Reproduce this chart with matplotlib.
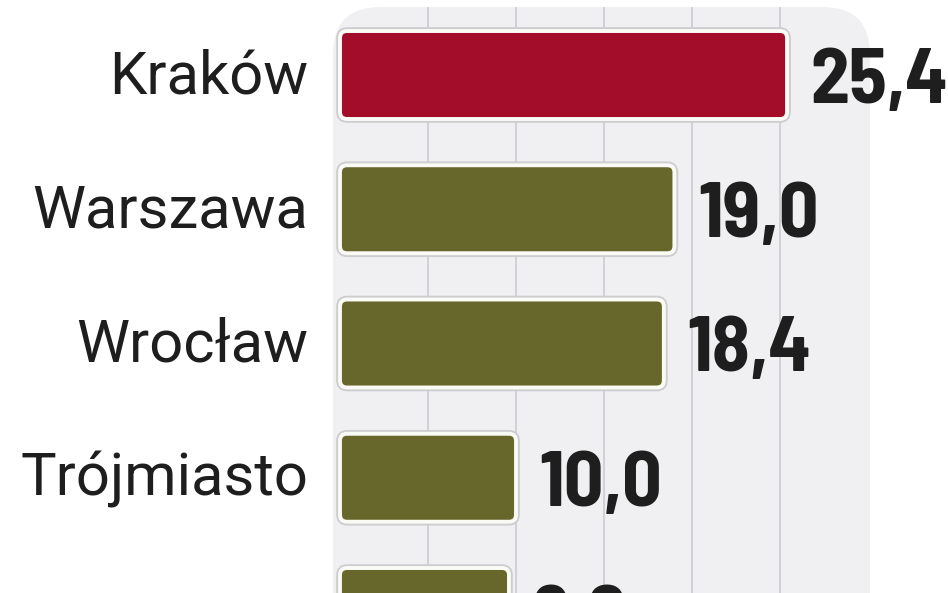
import matplotlib
matplotlib.use('Agg')
import matplotlib.pyplot as plt
from matplotlib.patches import FancyBboxPatch

# data (5th row is cut off at the bottom of the picture, its name is not visible)
cities = ['Kraków', 'Warszawa', 'Wrocław', 'Trójmiasto', '']
values = [25.4, 19.0, 18.4, 10.0, 9.6]
value_labels = ['25,4', '19,0', '18,4', '10,0', '9,6']
bar_colors = ['#a30d29', '#67662b', '#67662b', '#67662b', '#67662b']
grid_ticks = [5, 10, 15, 20, 25]

W, H = 948, 593
fig = plt.figure(figsize=(W / 100, H / 100), dpi=100)
fig.patch.set_facecolor('white')

# grey panel behind the chart (pixel coords)
panel = FancyBboxPatch((333 / W, -0.2), (870 - 333) / W, (593 - 7) / H + 0.2,
                       boxstyle='round,pad=0,rounding_size=0.05',
                       mutation_aspect=W / H,
                       transform=fig.transFigure, facecolor='#f0f0f2',
                       edgecolor='none', zorder=-1)
fig.patches.append(panel)

ax = fig.add_axes([333 / W, 0, (870 - 333) / W, (593 - 7) / H])
ax.set_facecolor('none')

px_x = 17.6     # pixels per value unit
px_y = 134.25   # pixels per category
ax.set_xlim(-7 / px_x, (870 - 340) / px_x)
ax.set_ylim(4 - (612 - 593) / px_y, -(75 - 7) / px_y)

for t in grid_ticks:
    ax.axvline(t, color='#cacace', lw=1.1, zorder=1)

ypos = list(range(len(cities)))
bars = ax.barh(ypos, values, height=0.655, color=bar_colors)

# swap plain bars for rounded ones with white border + soft shadow
asp = px_x / px_y
for b in bars:
    x0, y0 = b.get_x(), b.get_y()
    w, h = b.get_width(), b.get_height()
    fc = b.get_facecolor()
    b.set_visible(False)
    shadow = FancyBboxPatch((x0, y0), w, h,
                            boxstyle='round,pad=0,rounding_size=0.4',
                            mutation_aspect=asp, facecolor='none',
                            edgecolor='#cdcdd0', lw=5.5, zorder=2)
    box = FancyBboxPatch((x0, y0), w, h,
                         boxstyle='round,pad=0,rounding_size=0.4',
                         mutation_aspect=asp, facecolor=fc,
                         edgecolor='#fbfbf6', lw=2.8, zorder=3)
    ax.add_patch(shadow)
    ax.add_patch(box)

value_fonts = ['Barlow Semi Condensed', 'Roboto Condensed', 'Barlow Condensed',
               'DejaVu Sans']
for i, (city, v, lab) in enumerate(zip(cities, values, value_labels)):
    if city:
        ax.annotate(city, xy=(0, i), xytext=(-23, -13), textcoords='offset points',
                    ha='right', va='baseline', fontsize=43, color='#1e1e1e',
                    family=['Roboto', 'DejaVu Sans'], annotation_clip=False)
    ax.annotate(lab, xy=(v, i), xytext=(17, -20), textcoords='offset points',
                ha='left', va='baseline', fontsize=56, fontweight='bold',
                color='#1e1e1e', family=value_fonts,
                annotation_clip=False, zorder=4)

ax.set_xticks([])
ax.set_yticks([])
for s in ax.spines.values():
    s.set_visible(False)

fig.savefig('out.png', dpi=100)
